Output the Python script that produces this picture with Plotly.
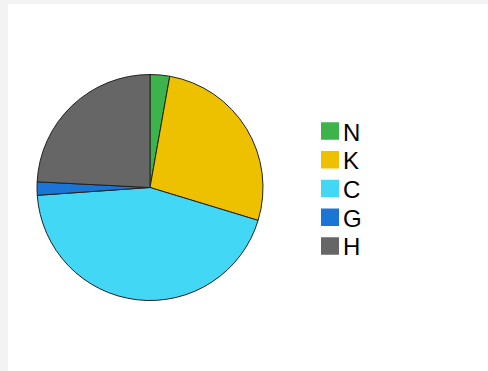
import plotly.graph_objects as go

labels = ["N", "K", "C", "G", "H"]
values = [2.8, 26.9, 44.2, 1.9, 24.2]
colors = ["#3cb44b", "#edc100", "#42d7f5", "#1a75d4", "#666666"]

W, H = 488, 371

fig = go.Figure()
fig.add_trace(go.Pie(
    labels=labels,
    values=values,
    sort=False,
    direction="clockwise",
    rotation=0,
    textinfo="none",
    hoverinfo="label+percent",
    marker=dict(colors=colors, line=dict(color="#222222", width=1)),
    domain=dict(x=[37 / W, 263 / W], y=[1 - 300.5 / H, 1 - 74.5 / H]),
    showlegend=False,
))

# white panel on light gray page
shapes = [dict(type="rect", xref="paper", yref="paper",
               x0=8 / W, x1=1, y0=0, y1=1 - 4 / H,
               fillcolor="white", line=dict(width=0), layer="below")]

# legend drawn by hand so the swatches match the reference size
annotations = []
top, step, box = 131, 28.75, 17.5
for i, (lab, col) in enumerate(zip(labels, colors)):
    cy = top + i * step
    shapes.append(dict(type="rect", xref="paper", yref="paper",
                       x0=321 / W, x1=339 / W,
                       y0=1 - (cy + box / 2) / H, y1=1 - (cy - box / 2) / H,
                       fillcolor=col, line=dict(width=0)))
    annotations.append(dict(xref="paper", yref="paper", x=341 / W, y=1 - (cy + 1) / H,
                            text=lab, showarrow=False, xanchor="left", yanchor="middle",
                            font=dict(family="Liberation Sans, Arial", size=24, color="black")))

fig.update_layout(
    width=W, height=H,
    margin=dict(l=0, r=0, t=0, b=0),
    paper_bgcolor="#f3f3f3",
    shapes=shapes,
    annotations=annotations,
)

# drop the default page margin so the figure sits at the window corner
fig.write_html("out.html", config={"displayModeBar": False},
               post_script="document.body.style.margin='0';document.body.style.overflow='hidden';")
